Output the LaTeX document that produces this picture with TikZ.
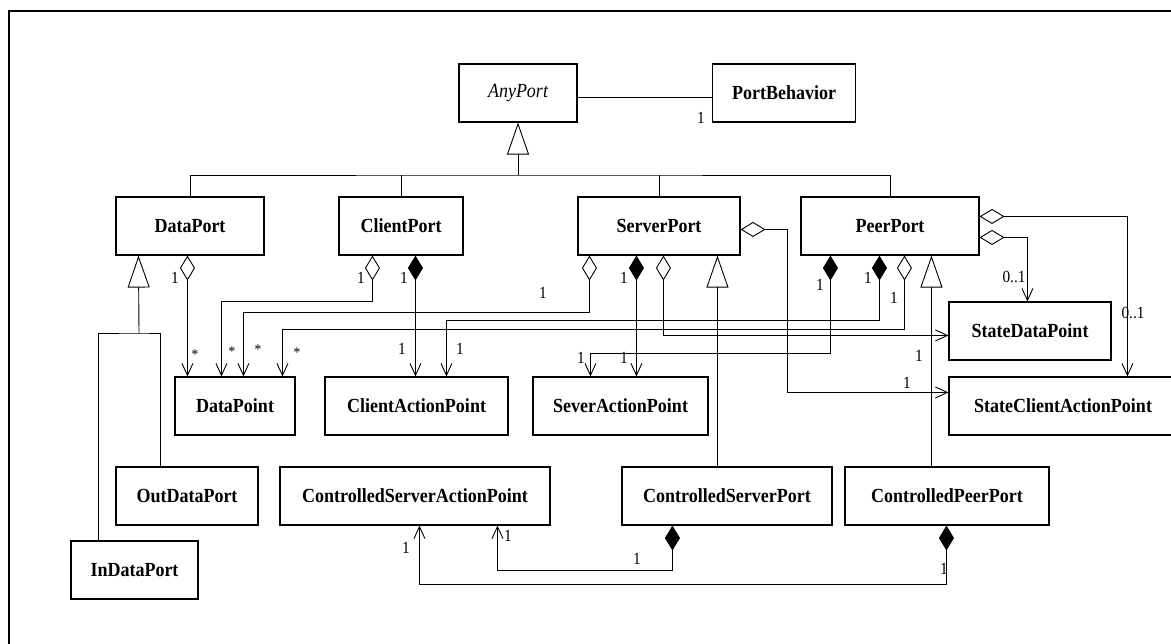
\documentclass[tikz,border=0pt]{standalone}
\usepackage{fontspec}
\setmainfont{Liberation Serif}[FakeStretch=0.9]
\usepackage{tikz}
\usetikzlibrary{arrows.meta,calc,positioning}

\tikzset{
  cls/.style={draw, line width=1.1pt, fill=white, minimum height=58pt, inner sep=0pt,
    font=\bfseries\fontsize{20}{22}\selectfont},
  gen/.style={-{Triangle[open,length=32pt,width=22pt]}},
  agg/.style={{Diamond[open,length=25pt,width=15pt]}-{Straight Barb[length=12pt,width=11pt]}},
  comp/.style={{Diamond[length=25pt,width=15pt]}-{Straight Barb[length=12pt,width=11pt]}},
  mult/.style={inner sep=0pt, font=\fontsize{17}{19}\selectfont},
}

\begin{document}
\begin{tikzpicture}[x=1pt,y=-1pt,line width=0.9pt]
    \useasboundingbox (0,0) rectangle (1171,644);
    \clip (0,0) rectangle (1171,644);
    \draw[line width=1.3pt] (9,700) -- (9,11) -- (1200,11);

    % Classes
    \node[cls, minimum width=118pt, font=\itshape\fontsize{20}{22}\selectfont] (anyport) at (518,93) {AnyPort};
    \node[cls, minimum width=143pt] (portbeh) at (784,93) {PortBehavior};
    \node[cls, minimum width=148pt] (dataport) at (190,226) {DataPort};
    \node[cls, minimum width=124pt] (clientport) at (401,226) {ClientPort};
    \node[cls, minimum width=162pt] (serverport) at (659,226) {ServerPort};
    \node[cls, minimum width=178pt] (peerport) at (890,226) {PeerPort};
    \node[cls, minimum width=120pt] (datapoint) at (235,406) {DataPoint};
    \node[cls, minimum width=183pt] (clientap) at (416.5,406) {ClientActionPoint};
    \node[cls, minimum width=175pt] (severap) at (620.5,406) {SeverActionPoint};
    \node[cls, minimum width=162pt] (statedp) at (1030,331) {StateDataPoint};
    \node[cls, minimum width=228pt] (stateclientap) at (1063,406) {StateClientActionPoint};
    \node[cls, minimum width=142pt] (outdataport) at (187,496) {OutDataPort};
    \node[cls, minimum width=270pt] (csap) at (415,496) {ControlledServerActionPoint};
    \node[cls, minimum width=210pt] (csport) at (727,496) {ControlledServerPort};
    \node[cls, minimum width=204pt] (cpport) at (947,496) {ControlledPeerPort};
    \node[cls, minimum width=127pt] (indataport) at (134.5,570) {InDataPort};

    % Inheritance
    \coordinate (bus) at (518,175);
    \draw[gen] (bus) -- (anyport.south);
    \draw (dataport.north) |- (bus) -| (peerport.north);
    \draw (clientport.north) -- (clientport.north |- bus);
    \draw (serverport.north) -- (serverport.north |- bus);
    \draw[gen] ([xshift=96pt]csport.north west) -- ([xshift=140pt]serverport.south west);
    \draw[gen] ([xshift=87pt]cpport.north west) -- ([xshift=131pt]peerport.south west);
    \coordinate (dpbus) at (139,333);
    \draw[gen] (dpbus) -- ([xshift=23pt]dataport.south west);
    \draw ([xshift=28pt]indataport.north west) |- (dpbus) -| ([xshift=45pt]outdataport.north west);

    % Association
    \draw ([yshift=-4pt]anyport.east) -- ([yshift=-4pt]portbeh.west);

    % Aggregations
    \draw[agg] ([xshift=72pt]dataport.south west) -- ([xshift=13pt]datapoint.north west);
    \draw[agg] ([xshift=34pt]clientport.south west) -- ++(0,46) -| ([xshift=47pt]datapoint.north west);
    \draw[agg] ([xshift=12pt]serverport.south west) -- ++(0,57) -| ([xshift=69pt]datapoint.north west);
    \draw[agg] ([xshift=104pt]peerport.south west) -- ++(0,74) -| ([xshift=108pt]datapoint.north west);
    \draw[agg] ([xshift=86pt]serverport.south west) |- ([yshift=-34pt]statedp.north west);
    \draw[agg] ([yshift=-33pt]serverport.north east) -- ++(47,0) |- ([yshift=-16pt]stateclientap.north west);
    \draw[agg] ([yshift=-20pt]peerport.north east) -| ([xshift=179pt]stateclientap.north west);
    \draw[agg] ([yshift=-41pt]peerport.north east) -| ([xshift=79pt]statedp.north west);

    % Compositions
    \draw[comp] ([xshift=77pt]clientport.south west) -- ([xshift=91pt]clientap.north west);
    \draw[comp] ([xshift=79pt]peerport.south west) -- ++(0,65) -| ([xshift=122pt]clientap.north west);
    \draw[comp] ([xshift=59pt]serverport.south west) -- ([xshift=104pt]severap.north west);
    \draw[comp] ([xshift=30pt]peerport.south west) -- ++(0,98) -| ([xshift=58pt]severap.north west);
    \draw[comp] ([xshift=51pt]csport.south west) -- ++(0,45) -| ([xshift=218pt]csap.south west);
    \draw[comp] ([xshift=102pt]cpport.south west) -- ++(0,59) -| ([xshift=140pt]csap.south west);

    % Multiplicities
    \foreach \x/\y [count=\i] in {701/118, 175/278, 361/278, 404/278, 543/293, 624/278,
        820/285, 868/278, 894/298, 402/349, 460/349, 581/358, 624/358, 919/356,
        907/383, 406/548, 508/536, 637/559, 944/569}
        \node[mult] (one\i) at (\x,\y) {1};
    \foreach \x/\y [count=\i] in {195/355, 232/352, 258/350, 297/353}
        \node[mult, font=\fontsize{15}{17}\selectfont] (many\i) at (\x,\y) {*};
    \node[mult] (opt1) at (1014,277) {0..1};
    \node[mult] (opt2) at (1133,313) {0..1};
\end{tikzpicture}
\end{document}
